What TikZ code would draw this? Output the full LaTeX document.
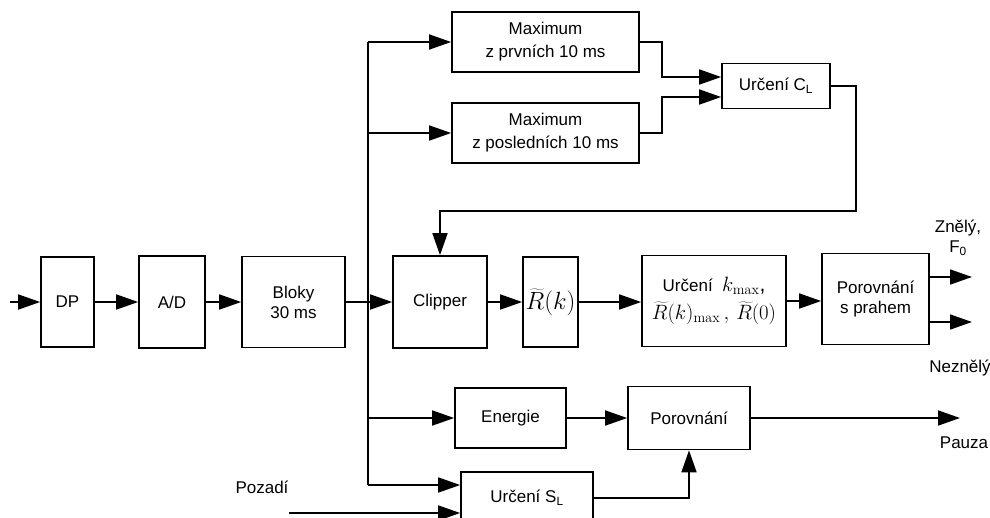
\documentclass[tikz,border=0pt]{standalone}
\usepackage[no-math]{fontspec}
\setmainfont{Liberation Sans}
\usetikzlibrary{arrows.meta}
\tikzset{
  blok/.style={draw, line width=1.7pt, align=center, inner sep=0pt},
  sipka/.style={line width=1.7pt, -{Triangle[length=22pt,width=15pt]}},
  vedeni/.style={line width=1.7pt},
}
\newcommand{\velke}{\fontsize{24}{28}\selectfont}
\newcommand{\stredni}{\fontsize{21}{25}\selectfont}
\begin{document}
\begin{tikzpicture}[x=1pt, y=-1pt, font=\fontsize{17}{20}\selectfont]
  \useasboundingbox (0,0) rectangle (990,517);
  \clip (0,0) rectangle (990,517);
  % hlavni vetev: DP -> A/D -> bloky -> clipper -> autokorelace -> rozhodnuti
  \node[blok, minimum width=53, minimum height=90] (dp) at (67.5,302) {DP};
  \node[blok, minimum width=66, minimum height=92] (ad) at (172,302) {A/D};
  \node[blok, minimum width=103, minimum height=91] (bloky) at (293.5,302) {Bloky\\30 ms};
  \node[blok, minimum width=94, minimum height=92] (clip) at (440,302) {Clipper};
  \node[blok, minimum width=55, minimum height=90] (rk) at (550.5,302) {\velke$\widetilde{R}(k)$};
  \node[blok, minimum width=144, minimum height=91] (kmax) at (714,301) {Určení~~{\stredni$k_{\max}$,}\\[6pt]{\stredni$\widetilde{R}(k)_{\max}\,,\,\widetilde{R}(0)$}};
  \node[blok, minimum width=107, minimum height=91] (prah) at (875.5,299) {Porovnání\\s prahem};
  \node[blok, minimum width=187, minimum height=60] (max1) at (545.5,42) {Maximum\\[3pt]z prvních 10 ms};
  \node[blok, minimum width=187, minimum height=60] (max2) at (545.5,133) {Maximum\\[3pt]z posledních 10 ms};
  \node[blok, minimum width=108, minimum height=45] (cl) at (776,86) {Určení C\textsubscript{L}};
  \node[blok, minimum width=111, minimum height=60] (energie) at (510.5,418) {Energie};
  \node[blok, minimum width=122, minimum height=63] (por) at (689,418) {Porovnání};
  \node[blok, minimum width=132, minimum height=52] (sl) at (527,498) {Určení S\textsubscript{L}};

  \node[align=center] (znely) at (958,238) {Znělý,\\F\textsubscript{0}};
  \node (neznely) at (960,368) {Neznělý};
  \node (pauzatxt) at (964,443) {Pauza};
  \node (pozadi) at (262,487) {Pozadí};

  \coordinate (vstup) at (10,302);
  \coordinate (b1) at (368,42);
  \coordinate (b2) at (368,485);
  \coordinate (zn) at (972,277);
  \coordinate (nz) at (972,322);
  \coordinate (pauza) at (960,418);
  \coordinate (poz) at (289,513);

  \draw[sipka] (vstup) -- (dp.west);
  \draw[sipka] (dp.east) -- (ad.west);
  \draw[sipka] (ad.east) -- (bloky.west);
  \draw[sipka] (bloky.east) -- (clip.west);
  \draw[sipka] (clip.east) -- (rk.west);
  \draw[sipka] (rk.east) -- (kmax.west |- rk.east);
  \draw[sipka] (kmax.east) -- (prah.west |- kmax.east);
  \foreach \c in {zn,nz}
    \draw[sipka] (prah.east |- \c) -- (\c);

  % sbernice
  \draw[vedeni] (b1) -- (b2);
  \draw[sipka] (b1) -- (max1.west);
  \draw[sipka] (b1 |- max2.west) -- (max2.west);
  \draw[sipka] (b1 |- energie.west) -- (energie.west);
  \draw[sipka] (b2) -- (b2 -| sl.west);
  \draw[sipka] (poz) -- (poz -| sl.west);

  \draw[sipka] (max1.east) -- ++(22,0) |- ([yshift=9pt]cl.west);
  \draw[sipka] (max2.east) -- ++(22,0) |- ([yshift=-11pt]cl.west);
  \draw[sipka] (cl.east) -- ++(25,0) -- ++(0,125) -| (clip.north);

  \draw[sipka] (energie.east) -- (por.west);
  \draw[sipka] (sl.east) -| (por.south);
  \draw[sipka] (por.east) -- (pauza);
\end{tikzpicture}
\end{document}
